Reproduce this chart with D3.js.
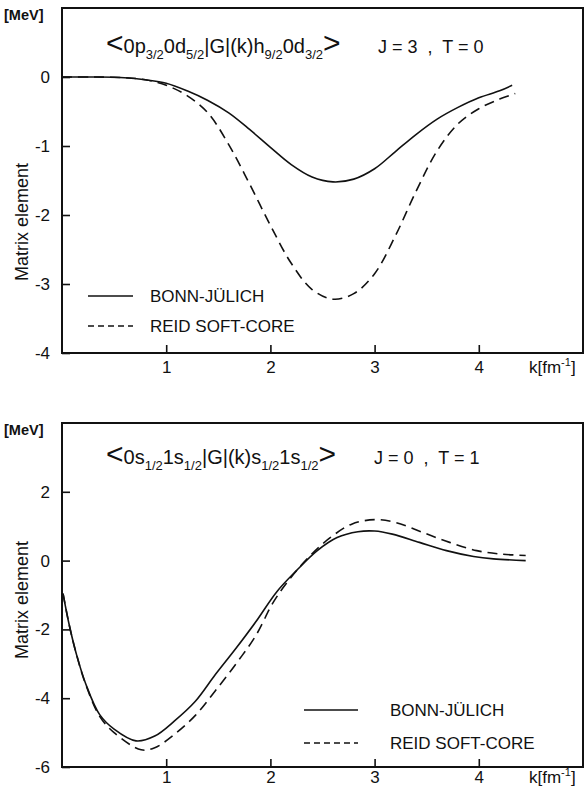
<!DOCTYPE html>
<html>
<head>
<meta charset="utf-8">
<script src="https://cdn.jsdelivr.net/npm/d3@7/dist/d3.min.js"></script>
<style>
  html, body { margin: 0; padding: 0; background: #fff; }
  svg { display: block; }
  text { font-family: "Liberation Sans", "DejaVu Sans", sans-serif; fill: #111; }
</style>
</head>
<body>
<svg id="chart" width="585" height="788"></svg>
<script>
// Momentum grid k [fm^-1] and matrix elements [MeV]
const kTicks = [1, 2, 3, 4];
const topYTicks = [0, -1, -2, -3, -4];
const botYTicks = [2, 0, -2, -4, -6];
const seriesNames = ["BONN-JÜLICH", "REID SOFT-CORE"];

// <0p3/2 0d5/2 | G | (k) h9/2 0d3/2>, J=3, T=0
const topBonnK = [0, 0.3, 0.6, 0.8, 1.0, 1.2, 1.4, 1.6, 1.8, 2.0, 2.2, 2.4, 2.6, 2.8, 3.0, 3.2, 3.4, 3.6, 3.8, 4.0, 4.2, 4.32];
const topBonnV = [0, 0, -0.01, -0.04, -0.09, -0.2, -0.34, -0.52, -0.76, -1.02, -1.27, -1.45, -1.52, -1.48, -1.33, -1.08, -0.83, -0.61, -0.44, -0.3, -0.2, -0.12];
const topReidK = [0, 0.3, 0.6, 0.8, 1.0, 1.2, 1.4, 1.6, 1.8, 2.0, 2.2, 2.4, 2.6, 2.8, 3.0, 3.2, 3.4, 3.6, 3.8, 4.0, 4.2, 4.35];
const topReidV = [0, 0, -0.01, -0.04, -0.12, -0.27, -0.52, -0.98, -1.55, -2.15, -2.7, -3.08, -3.22, -3.14, -2.85, -2.3, -1.65, -1.07, -0.68, -0.46, -0.32, -0.24];

// <0s1/2 1s1/2 | G | (k) s1/2 1s1/2>, J=0, T=1
const botBonnK = [0.01, 0.07, 0.14, 0.23, 0.36, 0.5, 0.71, 0.89, 1.08, 1.28, 1.47, 1.67, 1.86, 2.06, 2.25, 2.45, 2.64, 2.84, 3.0, 3.17, 3.43, 3.69, 3.95, 4.14, 4.45];
const botBonnV = [-0.96, -1.88, -2.74, -3.6, -4.47, -4.9, -5.24, -5.1, -4.66, -4.09, -3.32, -2.55, -1.78, -0.91, -0.29, 0.29, 0.67, 0.84, 0.86, 0.77, 0.53, 0.29, 0.12, 0.05, 0.0];
const botReidK = [0.01, 0.07, 0.14, 0.23, 0.36, 0.5, 0.76, 0.89, 1.08, 1.28, 1.47, 1.67, 1.86, 2.03, 2.19, 2.38, 2.58, 2.78, 3.0, 3.2, 3.46, 3.72, 3.98, 4.21, 4.45];
const botReidV = [-0.96, -1.88, -2.74, -3.62, -4.52, -5.0, -5.5, -5.44, -5.05, -4.5, -3.79, -3.0, -2.18, -1.2, -0.52, 0.14, 0.68, 1.06, 1.19, 1.11, 0.82, 0.53, 0.29, 0.19, 0.15];

const svg = d3.select("#chart");
const FONT = 17;

function drawPanel(p) {
  const x = d3.scaleLinear().domain([0, 5]).range([p.left, p.right]);
  const y = d3.scaleLinear().domain(p.yDomain).range([p.bottom, p.top]);
  const g = svg.append("g");

  // y axis with inward ticks
  const ya = g.append("g").attr("transform", `translate(${p.left},0)`)
    .call(d3.axisLeft(y).tickValues(p.yTicks).tickSize(-8).tickPadding(12)
      .tickFormat(d => d < 0 ? "-" + Math.abs(d) : String(d)));
  ya.select(".domain").remove();
  ya.selectAll("line").attr("stroke", "#111").attr("stroke-width", 1.6);
  ya.selectAll("text").attr("font-size", FONT).attr("font-family", "Liberation Sans").attr("fill", "#111");

  // x axis with inward ticks
  const xa = g.append("g").attr("transform", `translate(0,${p.bottom})`)
    .call(d3.axisBottom(x).tickValues(kTicks).tickSize(-8).tickPadding(p.xPad).tickFormat(d3.format("d")));
  xa.select(".domain").remove();
  xa.selectAll("line").attr("stroke", "#111").attr("stroke-width", 1.6);
  xa.selectAll("text").attr("font-size", FONT).attr("font-family", "Liberation Sans").attr("fill", "#111");

  // frame
  g.append("rect").attr("x", p.left).attr("y", p.top)
    .attr("width", p.right - p.left).attr("height", p.bottom - p.top)
    .attr("fill", "none").attr("stroke", "#111").attr("stroke-width", 2);

  // unit label and axis titles
  g.append("text").attr("x", 4).attr("y", p.top + 12).attr("font-size", 14.5).attr("font-weight", "bold").text("[MeV]");
  g.append("text").attr("transform", `translate(28,${p.titleY}) rotate(-90)`)
    .attr("text-anchor", "middle").attr("font-size", 18).text("Matrix element");

  const kl = g.append("text").attr("x", 529).attr("y", p.bottom + p.kDy).attr("font-size", FONT);
  kl.append("tspan").text("k[fm");
  kl.append("tspan").attr("font-size", 11).attr("dy", -7).text("-1");
  kl.append("tspan").attr("dy", 7).text("]");

  // curves
  const line = d3.line().x(d => x(d[0])).y(d => y(d[1])).curve(d3.curveCatmullRom.alpha(0.5));
  g.append("path").datum(d3.zip(p.bonnK, p.bonnV)).attr("d", line)
    .attr("fill", "none").attr("stroke", "#111").attr("stroke-width", 1.6);
  g.append("path").datum(d3.zip(p.reidK, p.reidV)).attr("d", line)
    .attr("fill", "none").attr("stroke", "#111").attr("stroke-width", 1.6)
    .attr("stroke-dasharray", "10,6");

  // heading: matrix element notation
  const t = g.append("text").attr("x", 106).attr("y", p.headY).attr("font-size", 20);
  p.heading.forEach(part => {
    const s = t.append("tspan").text(part.t);
    if (part.sub) s.attr("font-size", 13).attr("dy", 6);
    if (part.back) s.attr("dy", -6);
    if (part.big) s.attr("font-size", 30).attr("font-weight", 300);
  });
  g.append("text").attr("x", p.jx).attr("y", p.headY).attr("font-size", 18)
    .attr("xml:space", "preserve").text(p.jt);

  // legend
  const styles = [null, "6,4"];
  seriesNames.forEach((name, i) => {
    const ly = p.legY + i * p.legGap;
    g.append("line").attr("x1", p.legX1).attr("x2", p.legX2).attr("y1", ly).attr("y2", ly)
      .attr("stroke", "#111").attr("stroke-width", 1.6).attr("stroke-dasharray", styles[i]);
    g.append("text").attr("x", p.legTX).attr("y", ly + 6).attr("font-size", FONT).text(name);
  });
}

drawPanel({
  left: 62, right: 583, top: 8, bottom: 353, yDomain: [-4, 1], yTicks: topYTicks,
  titleY: 222, headY: 53, xPad: 8, kDy: 20,
  bonnK: topBonnK, bonnV: topBonnV, reidK: topReidK, reidV: topReidV,
  heading: [
    {t: "<", big: true}, {t: "0p"}, {t: "3/2", sub: true}, {t: "0d", back: true}, {t: "5/2", sub: true},
    {t: "|G|(k)h", back: true}, {t: "9/2", sub: true}, {t: "0d", back: true}, {t: "3/2", sub: true},
    {t: ">", big: true, back: true}
  ],
  jx: 378, jt: "J = 3  ,  T = 0",
  legY: 296, legGap: 30, legX1: 88, legX2: 133, legTX: 150
});

drawPanel({
  left: 62, right: 583, top: 423, bottom: 767, yDomain: [-6, 4], yTicks: botYTicks,
  titleY: 600, headY: 464, xPad: 4, kDy: 16,
  bonnK: botBonnK, bonnV: botBonnV, reidK: botReidK, reidV: botReidV,
  heading: [
    {t: "<", big: true}, {t: "0s"}, {t: "1/2", sub: true}, {t: "1s", back: true}, {t: "1/2", sub: true},
    {t: "|G|(k)s", back: true}, {t: "1/2", sub: true}, {t: "1s", back: true}, {t: "1/2", sub: true},
    {t: ">", big: true, back: true}
  ],
  jx: 374, jt: "J = 0  ,  T = 1",
  legY: 710, legGap: 33, legX1: 304, legX2: 358, legTX: 390
});
</script>
</body>
</html>
